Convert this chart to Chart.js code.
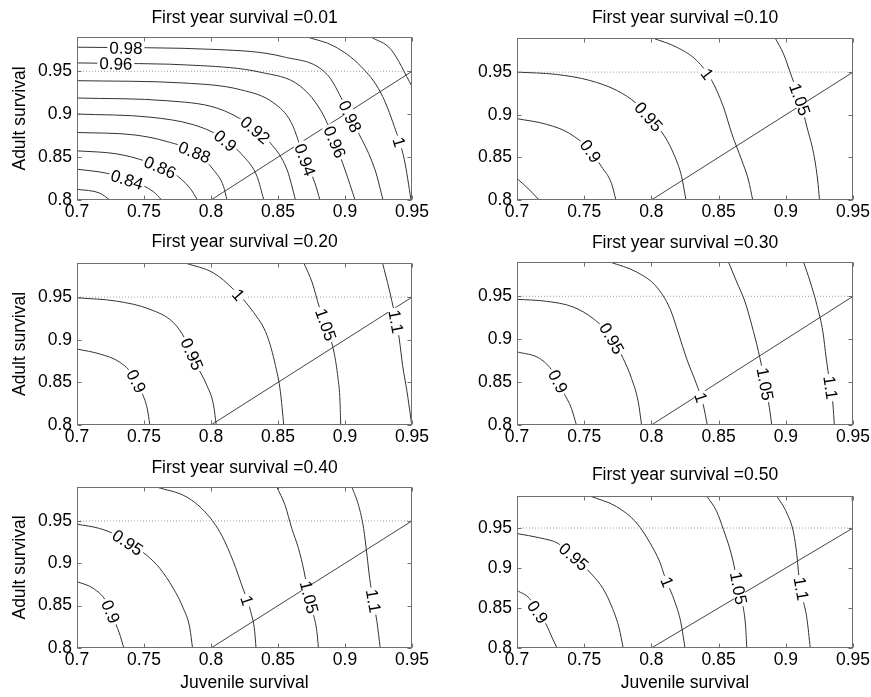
<!DOCTYPE html>
<html>
<head>
<meta charset="utf-8">
<script src="https://cdn.jsdelivr.net/npm/chart.js@4.4.1/dist/chart.umd.min.js"></script>
<style>
  html, body { margin: 0; padding: 0; background: #fff; }
  #wrap { position: relative; width: 871px; height: 697px; overflow: hidden; }
  #wrap canvas { position: absolute; }
</style>
</head>
<body>
<div id="wrap"></div>
<script>
// axes
const xTicks = [0.7, 0.75, 0.8, 0.85, 0.9, 0.95];
const yTicks = [0.8, 0.85, 0.9, 0.95];
const xMin = 0.7, xMax = 0.95, yMin = 0.8, yMax = 0.99;
const xTitle = "Juvenile survival";
const yTitle = "Adult survival";
const titles = [
  "First year survival =0.01", "First year survival =0.10",
  "First year survival =0.20", "First year survival =0.30",
  "First year survival =0.40", "First year survival =0.50"
];
const diagLine = [[0.8, 0.8], [0.95, 0.95]];
const dotLevel = 0.95;

// first year survival 0.01
const levels1 = ["0.82", "0.84", "0.86", "0.88", "0.9", "0.92", "0.94", "0.96", "0.98", "1", "1.02"];
const curves1 = [
  [[0.7,0.8125],[0.717,0.808],[0.7245,0.8]],
  [[0.7,0.8359],[0.722,0.8312],[0.742,0.8214],[0.757,0.8097],[0.7632,0.8]],
  [[0.7,0.8573],[0.7295,0.8538],[0.752,0.8448],[0.772,0.8312],[0.7844,0.8136],[0.7899,0.8]],
  [[0.7,0.8787],[0.742,0.876],[0.767,0.8682],[0.7894,0.8546],[0.8019,0.8351],[0.8094,0.8156],[0.8119,0.8]],
  [[0.7,0.9002],[0.7544,0.8966],[0.7869,0.8877],[0.8069,0.874],[0.8244,0.8507],[0.8344,0.8273],[0.8394,0.8]],
  [[0.7,0.9189],[0.767,0.9157],[0.8044,0.9072],[0.8269,0.8896],[0.8444,0.8663],[0.8568,0.8351],[0.8631,0.8]],
  [[0.7,0.9391],[0.7794,0.9364],[0.8219,0.9286],[0.8469,0.913],[0.86,0.89],[0.8701,0.8469],[0.8775,0.82],[0.8813,0.8]],
  [[0.7,0.9598],[0.7919,0.9567],[0.8369,0.9489],[0.8668,0.9325],[0.8835,0.9],[0.8925,0.8668],[0.9,0.8352],[0.9075,0.8]],
  [[0.7,0.9781],[0.8044,0.9754],[0.8543,0.9668],[0.8868,0.9461],[0.8985,0.915],[0.9037,0.8973],[0.9224,0.8352],[0.9284,0.8]],
  [[0.8718,0.99],[0.8918,0.9793],[0.9118,0.9559],[0.9268,0.9247],[0.9368,0.8857],[0.9443,0.8468],[0.9493,0.8]],
  [[0.9193,0.99],[0.9343,0.9754],[0.95,0.9325]]
];
const labels1 = [
  ["0.98",0.7365,0.9762], ["0.96",0.729,0.9565], ["0.92",0.8313,0.8785], ["0.9",0.8082,0.8645],
  ["0.88",0.7858,0.848], ["0.86",0.7619,0.838], ["0.84",0.737,0.822], ["0.94",0.8701,0.8469],
  ["0.96",0.891,0.8668], ["0.98",0.9037,0.8973], ["1",0.9388,0.8668]
];

// first year survival 0.10
const levels2 = ["0.85", "0.9", "0.95", "1", "1.05"];
const curves2 = [
  [[0.7,0.8253],[0.7094,0.8117],[0.7164,0.8]],
  [[0.7,0.8954],[0.7219,0.8888],[0.7393,0.8779],[0.7542,0.8584],[0.7629,0.839],[0.7703,0.8195],[0.7736,0.8]],
  [[0.7,0.95],[0.7293,0.9473],[0.7542,0.9402],[0.7741,0.9286],[0.789,0.913],[0.8001,0.8935],[0.8101,0.874],[0.8175,0.8506],[0.8225,0.8273],[0.8257,0.8]],
  [[0.8009,0.99],[0.8188,0.9792],[0.8337,0.9636],[0.8449,0.9402],[0.8536,0.9091],[0.8598,0.8779],[0.8672,0.8467],[0.8722,0.8234],[0.8754,0.8]],
  [[0.8921,0.99],[0.8983,0.9714],[0.9045,0.9441],[0.9107,0.9169],[0.9157,0.8857],[0.9207,0.8545],[0.9237,0.8234],[0.9251,0.8]]
];
const labels2 = [["0.9",0.7517,0.8538], ["0.95",0.7977,0.8974], ["1",0.8412,0.9473], ["1.05",0.9083,0.9169]];

// first year survival 0.20
const levels3 = ["0.9", "0.95", "1", "1.05", "1.1"];
const curves3 = [
  [[0.7,0.8891],[0.717,0.8833],[0.732,0.8736],[0.742,0.8581],[0.7482,0.8388],[0.7524,0.8194],[0.7544,0.8]],
  [[0.7,0.9492],[0.7295,0.9453],[0.7544,0.9357],[0.7719,0.9202],[0.7807,0.9008],[0.7894,0.8698],[0.7969,0.8465],[0.8019,0.8233],[0.8039,0.8]],
  [[0.7807,0.99],[0.8019,0.9783],[0.8169,0.9589],[0.8319,0.9318],[0.8419,0.9047],[0.8481,0.8698],[0.8518,0.8388],[0.8543,0.8]],
  [[0.8693,0.99],[0.8756,0.9667],[0.8806,0.9395],[0.8868,0.9124],[0.8918,0.8853],[0.8948,0.8543],[0.8963,0.8271],[0.8968,0.8]],
  [[0.928,0.99],[0.933,0.9589],[0.9368,0.9318],[0.9405,0.9008],[0.943,0.8698],[0.9463,0.8388],[0.9488,0.8116],[0.9498,0.8]]
];
const labels3 = [["0.9",0.7382,0.8465], ["0.95",0.7832,0.8814], ["1",0.8194,0.9512], ["1.05",0.8831,0.9163], ["1.1",0.9343,0.9202]];

// first year survival 0.30
const levels4 = ["0.9", "0.95", "1", "1.05", "1.1"];
const curves4 = [
  [[0.7,0.8853],[0.7169,0.8775],[0.7268,0.862],[0.7343,0.8388],[0.7405,0.8194],[0.7442,0.8]],
  [[0.7,0.9465],[0.7219,0.9442],[0.7417,0.9376],[0.7567,0.924],[0.7691,0.9047],[0.779,0.8775],[0.7852,0.8543],[0.7902,0.8271],[0.7927,0.8]],
  [[0.7691,0.99],[0.789,0.9783],[0.8039,0.9609],[0.8138,0.9357],[0.8205,0.905],[0.8265,0.876],[0.8335,0.848],[0.8385,0.824],[0.8416,0.8]],
  [[0.8573,0.99],[0.8635,0.9667],[0.8697,0.9434],[0.8747,0.9163],[0.8797,0.8853],[0.8834,0.8581],[0.8871,0.8271],[0.8896,0.8]],
  [[0.9132,0.99],[0.9182,0.9667],[0.9232,0.9395],[0.9276,0.9085],[0.9301,0.8775],[0.9326,0.8504],[0.9351,0.8233],[0.9361,0.8]]
];
const labels4 = [["0.9",0.7256,0.8468], ["0.95",0.7666,0.8974], ["1",0.8349,0.8312], ["1.05",0.8809,0.8468], ["1.1",0.9306,0.8429]];

// first year survival 0.40
const levels5 = ["0.9", "0.95", "1", "1.05", "1.1"];
const curves5 = [
  [[0.7,0.8783],[0.712,0.8705],[0.7219,0.8548],[0.7282,0.8313],[0.7324,0.8137],[0.7349,0.8]],
  [[0.7,0.9461],[0.717,0.941],[0.7294,0.9332],[0.7518,0.9097],[0.7618,0.894],[0.7718,0.8705],[0.7793,0.847],[0.7842,0.8235],[0.7862,0.8]],
  [[0.7593,0.99],[0.7818,0.9782],[0.7967,0.9586],[0.8079,0.9332],[0.8167,0.9018],[0.8229,0.8744],[0.8296,0.8431],[0.8326,0.8196],[0.8336,0.8]],
  [[0.8491,0.99],[0.8553,0.9684],[0.8603,0.941],[0.8653,0.9175],[0.8695,0.8901],[0.8727,0.8627],[0.8765,0.8392],[0.879,0.8196],[0.8802,0.8]],
  [[0.9051,0.99],[0.9101,0.9684],[0.9139,0.941],[0.9164,0.9097],[0.9184,0.8823],[0.9208,0.8588],[0.9238,0.8313],[0.9263,0.8]]
];
const labels5 = [["0.9",0.7194,0.8392], ["0.95",0.7381,0.9253], ["1",0.8241,0.8548], ["1.05",0.8702,0.8588], ["1.1",0.9188,0.8548]];

// first year survival 0.50
const levels6 = ["0.9", "0.95", "1", "1.05", "1.1", "1.15"];
const curves6 = [
  [[0.7,0.8719],[0.7094,0.8617],[0.7144,0.8473],[0.7219,0.8288],[0.7263,0.8123],[0.7298,0.8]],
  [[0.7,0.943],[0.7169,0.9377],[0.7306,0.9307],[0.7442,0.911],[0.7554,0.8925],[0.7641,0.874],[0.7711,0.8493],[0.776,0.8247],[0.779,0.8]],
  [[0.7542,0.99],[0.7741,0.9767],[0.789,0.9562],[0.7989,0.9315],[0.8064,0.9069],[0.8101,0.8884],[0.8175,0.8575],[0.8218,0.8329],[0.825,0.8]],
  [[0.8412,0.99],[0.8486,0.9706],[0.8536,0.948],[0.8585,0.9233],[0.8615,0.9028],[0.8648,0.874],[0.868,0.8534],[0.87,0.8288],[0.871,0.8]],
  [[0.8933,0.99],[0.9008,0.9685],[0.9058,0.9439],[0.9083,0.9151],[0.9097,0.8904],[0.9127,0.8617],[0.9157,0.837],[0.9182,0.8]],
  [[0.9493,0.99],[0.95,0.97]]
];
const labels6 = [["0.9",0.7119,0.8411], ["0.95",0.7417,0.913], ["1",0.8113,0.8822], ["1.05",0.8623,0.874], ["1.1",0.9107,0.874]];

const FONT = "'Liberation Sans', Arial, Helvetica, sans-serif";
const TICK_PX = 17.5, TITLE_PX = 17.5, CLABEL_PX = 17;

// page layout of the six canvases (pixels)
const boxes = [
  { left: 0,   top: 0,   w: 440, h: 228, aL: 77,  aR: 412, aT: 37,  aB: 200, tC: 18 },
  { left: 440, top: 0,   w: 445, h: 228, aL: 517, aR: 853, aT: 38,  aB: 200, tC: 18 },
  { left: 0,   top: 228, w: 440, h: 228, aL: 77,  aR: 412, aT: 263, aB: 425, tC: 242 },
  { left: 440, top: 228, w: 445, h: 228, aL: 517, aR: 853, aT: 262, aB: 425, tC: 243 },
  { left: 0,   top: 456, w: 440, h: 241, aL: 77,  aR: 412, aT: 487, aB: 648, tC: 468 },
  { left: 440, top: 456, w: 445, h: 241, aL: 517, aR: 853, aT: 496, aB: 648, tC: 475 }
];

const allLevels = [levels1, levels2, levels3, levels4, levels5, levels6];
const allCurves = [curves1, curves2, curves3, curves4, curves5, curves6];
const allLabels = [labels1, labels2, labels3, labels4, labels5, labels6];

const decor = {
  id: "decor",
  afterDatasetsDraw(chart, args, opts) {
    const { ctx, chartArea: a, scales: { x, y } } = chart;
    ctx.save();
    ctx.font = `${CLABEL_PX}px ${FONT}`;
    ctx.textAlign = "center";
    ctx.textBaseline = "middle";
    opts.labels.forEach(([txt, lx, ly]) => {
      const di = opts.levels.indexOf(txt);
      const pts = chart.getDatasetMeta(di).data;
      const px = x.getPixelForValue(lx), py = y.getPixelForValue(ly);
      let best = null;
      for (let k = 0; k < pts.length - 1; k++) {
        const p = pts[k], q = pts[k + 1];
        const dx = q.x - p.x, dy = q.y - p.y;
        const L2 = dx * dx + dy * dy;
        let t = L2 ? ((px - p.x) * dx + (py - p.y) * dy) / L2 : 0;
        t = Math.max(0, Math.min(1, t));
        const cx = p.x + t * dx, cy = p.y + t * dy;
        const d = (cx - px) ** 2 + (cy - py) ** 2;
        if (!best || d < best.d) best = { d, cx, cy, ang: Math.atan2(dy, dx) };
      }
      let ang = best.ang;
      if (ang > Math.PI / 2) ang -= Math.PI;
      if (ang < -Math.PI / 2) ang += Math.PI;
      const w = ctx.measureText(txt).width;
      ctx.save();
      ctx.translate(best.cx, best.cy);
      ctx.rotate(ang);
      ctx.fillStyle = "#fff";
      ctx.fillRect(-w / 2 - 2, -6, w + 4, 12);
      ctx.fillStyle = "#000";
      ctx.fillText(txt, 0, 1);
      ctx.restore();
    });
    // box and inward ticks
    ctx.strokeStyle = "#6f6f6f";
    ctx.lineWidth = 1;
    const L = Math.round(a.left) + 0.5, R = Math.round(a.right) - 0.5;
    const T = Math.round(a.top) + 0.5, B = Math.round(a.bottom) - 0.5;
    ctx.strokeRect(L, T, R - L, B - T);
    ctx.beginPath();
    xTicks.forEach(v => {
      const p = Math.round(x.getPixelForValue(v)) + 0.5;
      ctx.moveTo(p, B); ctx.lineTo(p, B - 4);
      ctx.moveTo(p, T); ctx.lineTo(p, T + 4);
    });
    yTicks.forEach(v => {
      const p = Math.round(y.getPixelForValue(v)) + 0.5;
      ctx.moveTo(L, p); ctx.lineTo(L + 4, p);
      ctx.moveTo(R, p); ctx.lineTo(R - 4, p);
    });
    ctx.stroke();
    // panel title, centred on the plot box
    ctx.fillStyle = "#000";
    ctx.font = `${TITLE_PX}px ${FONT}`;
    ctx.textAlign = "center";
    ctx.textBaseline = "middle";
    ctx.fillText(opts.title, (a.left + a.right) / 2, a.top - opts.titleGap);
    ctx.restore();
  }
};

const wrap = document.getElementById("wrap");

boxes.forEach((g, i) => {
  const cv = document.createElement("canvas");
  cv.width = g.w; cv.height = g.h;
  cv.style.left = g.left + "px"; cv.style.top = g.top + "px";
  cv.style.width = g.w + "px"; cv.style.height = g.h + "px";
  wrap.appendChild(cv);

  const bottomRow = i >= 4, leftCol = i % 2 === 0;
  const xAxisH = bottomRow ? 46 : 26;
  const padBottom = g.h - (g.aB - g.top) - xAxisH;
  const padRight = g.w - (g.aR - g.left);
  const yAxisW = g.aL - g.left;

  const datasets = allCurves[i].map(c => ({
    data: c.map(([x, y]) => ({ x, y })),
    showLine: true, borderColor: "#333", borderWidth: 1, pointRadius: 0,
    cubicInterpolationMode: "monotone", fill: false
  }));
  datasets.push({
    data: diagLine.map(([x, y]) => ({ x, y })),
    showLine: true, borderColor: "#444", borderWidth: 1, pointRadius: 0
  });
  datasets.push({
    data: [{ x: xMin, y: dotLevel }, { x: xMax, y: dotLevel }],
    showLine: true, borderColor: "#a0a0a0", borderWidth: 1, borderDash: [1, 2], pointRadius: 0
  });

  new Chart(cv.getContext("2d"), {
    type: "scatter",
    data: { datasets },
    options: {
      responsive: false,
      animation: false,
      devicePixelRatio: 1,
      layout: { padding: { left: 0, right: padRight, top: g.aT - g.top, bottom: padBottom } },
      plugins: {
        legend: { display: false },
        tooltip: { enabled: false },
        title: { display: false },
        decor: { levels: allLevels[i], labels: allLabels[i], title: titles[i], titleGap: g.aT - g.tC }
      },
      scales: {
        x: {
          type: "linear", min: xMin, max: xMax,
          afterBuildTicks: s => { s.ticks = xTicks.map(v => ({ value: v })); },
          afterFit: s => { s.height = xAxisH; },
          grid: { display: false, drawTicks: false },
          border: { display: false },
          ticks: {
            padding: 2, color: "#000", maxRotation: 0, autoSkip: false,
            font: { family: FONT, size: TICK_PX }, callback: v => String(v)
          },
          title: {
            display: bottomRow, text: xTitle, color: "#000",
            font: { family: FONT, size: TITLE_PX }, padding: { top: 0, bottom: 0 }
          }
        },
        y: {
          type: "linear", min: yMin, max: yMax,
          afterBuildTicks: s => { s.ticks = yTicks.map(v => ({ value: v })); },
          afterFit: s => { s.width = yAxisW; },
          grid: { display: false, drawTicks: false },
          border: { display: false },
          ticks: {
            padding: 5, color: "#000", autoSkip: false,
            font: { family: FONT, size: TICK_PX }, callback: v => String(v)
          },
          title: {
            display: leftCol, text: yTitle, color: "#000",
            font: { family: FONT, size: TITLE_PX }, padding: { top: 10, bottom: 0 }
          }
        }
      }
    },
    plugins: [decor]
  });
});
</script>
</body>
</html>
